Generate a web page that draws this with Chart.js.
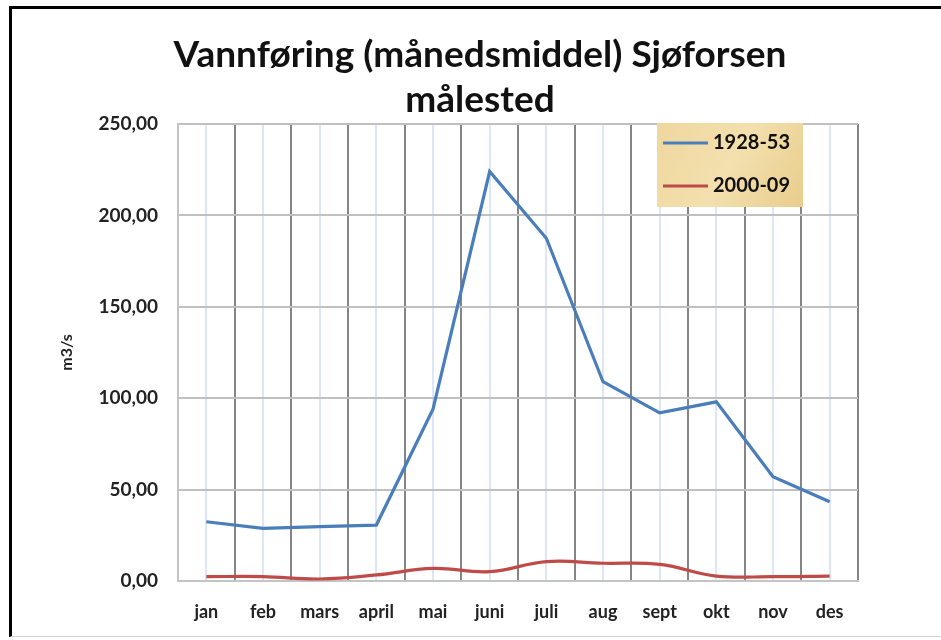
<!DOCTYPE html>
<html>
<head>
<meta charset="utf-8">
<script src="https://cdn.jsdelivr.net/npm/chart.js@4.4.1/dist/chart.umd.min.js"></script>
<style>
  html, body { margin: 0; padding: 0; background: #fff; }
  #wrap { position: relative; width: 941px; height: 640px; overflow: hidden; }
  #frame { position: absolute; left: 9px; top: 6px; width: 940px; height: 631px;
           border-top: 3px solid #000; border-left: 3px solid #000; border-bottom: 1px solid #d0d0d0; box-sizing: border-box; }
  #c { position: absolute; left: 0; top: 0; }
</style>
</head>
<body>
<div id="wrap">
  <div id="frame"></div>
  <canvas id="c" width="941" height="640"></canvas>
</div>
<script>
const months = ['jan', 'feb', 'mars', 'april', 'mai', 'juni', 'juli', 'aug', 'sept', 'okt', 'nov', 'des'];
const series1928 = [32.4, 28.8, 29.7, 30.6, 94.0, 224.0, 187.5, 109.0, 92.0, 98.0, 57.0, 43.4];
const series2000 = [2.4, 2.4, 1.1, 3.3, 6.9, 5.1, 10.6, 9.7, 9.1, 2.7, 2.4, 2.7];
const seriesNames = ['1928-53', '2000-09'];
const titleLines = ['Vannføring (månedsmiddel) Sjøforsen', 'målested'];
const yAxisTitle = 'm3/s';
const yMin = 0, yMax = 250, yStep = 50;

const FONT = "Lato, 'Open Sans', sans-serif";

const titlePlugin = {
  id: 'centeredTitle',
  afterDraw(chart) {
    const ctx = chart.ctx;
    ctx.save();
    ctx.fillStyle = '#111';
    ctx.font = "bold 37px " + FONT;
    ctx.textAlign = 'center';
    ctx.textBaseline = 'middle';
    const cx = chart.chartArea.left + 302;
    titleLines.forEach((t, i) => ctx.fillText(t, cx, 55 + i * 45));
    ctx.restore();
  }
};

const legendPlugin = {
  id: 'boxLegend',
  afterDraw(chart) {
    const ctx = chart.ctx;
    const ca = chart.chartArea;
    const x = ca.right - 201, y = ca.top - 1, w = 146, h = 84;
    ctx.save();
    const g = ctx.createLinearGradient(x, y, x + w, y + h);
    g.addColorStop(0, '#efd79e');
    g.addColorStop(0.5, '#f3e0ae');
    g.addColorStop(1, '#e8cd8c');
    ctx.fillStyle = g;
    ctx.fillRect(x, y, w, h);
    const rows = [y + 20, y + 63];
    chart.data.datasets.forEach((ds, i) => {
      const ry = rows[i];
      ctx.strokeStyle = ds.borderColor;
      ctx.lineWidth = 3;
      ctx.beginPath();
      ctx.moveTo(x + 6, ry);
      ctx.lineTo(x + 51, ry);
      ctx.stroke();
      ctx.fillStyle = '#111';
      ctx.font = "bold 20px " + FONT;
      ctx.textBaseline = 'middle';
      ctx.textAlign = 'left';
      ctx.fillText(ds.label, x + 56, ry);
    });
    ctx.restore();
  }
};

new Chart(document.getElementById('c'), {
  type: 'line',
  data: {
    labels: months,
    datasets: [
      { label: seriesNames[0], data: series1928, borderColor: '#4a7ebb', borderWidth: 3.2,
        pointRadius: 0, tension: 0, fill: false, xAxisID: 'x', yAxisID: 'y' },
      { label: seriesNames[1], data: series2000, borderColor: '#be4b48', borderWidth: 3.2,
        pointRadius: 0, tension: 0.4, fill: false, xAxisID: 'x', yAxisID: 'y' }
    ]
  },
  options: {
    responsive: false,
    animation: false,
    devicePixelRatio: 1,
    layout: { padding: { left: 20, right: 83, top: 124, bottom: 5 } },
    plugins: {
      legend: { display: false },
      tooltip: { enabled: false },
      title: { display: false }
    },
    scales: {
      x: {
        type: 'category',
        position: 'bottom',
        offset: true,
        grid: {
          offset: true,
          drawTicks: false,
          lineWidth: 2,
          color: (c) => (c.index === 0 || c.index === months.length) ? '#c4c4c4' : '#858585'
        },
        border: { display: true, color: '#c4c4c4', width: 2 },
        ticks: { color: '#222', padding: 20, maxRotation: 0, autoSkip: false,
                 font: { family: FONT, size: 18, weight: 'bold' } },
        afterFit: (s) => { s.height = 54; }
      },
      x2: {
        type: 'category',
        position: 'bottom',
        labels: months,
        offset: true,
        grid: { offset: false, drawTicks: false, lineWidth: 2, color: '#dde6f6' },
        border: { display: false },
        ticks: { display: false },
        afterFit: (s) => { s.height = 0; }
      },
      y: {
        min: yMin, max: yMax,
        grid: { drawTicks: false, lineWidth: 2, color: '#c0c0c0' },
        border: { display: true, color: '#c4c4c4', width: 2 },
        ticks: { stepSize: yStep, color: '#222', padding: 20,
                 font: { family: FONT, size: 19, weight: 'bold' },
                 callback: (v) => Number(v).toFixed(2).replace('.', ',') },
        title: { display: true, text: yAxisTitle, color: '#222',
                 font: { family: FONT, size: 16, weight: 'bold' }, padding: { top: 37, bottom: 0 } },
        afterFit: (s) => { s.width = 158; }
      }
    }
  },
  plugins: [legendPlugin, titlePlugin]
});
</script>
</body>
</html>
